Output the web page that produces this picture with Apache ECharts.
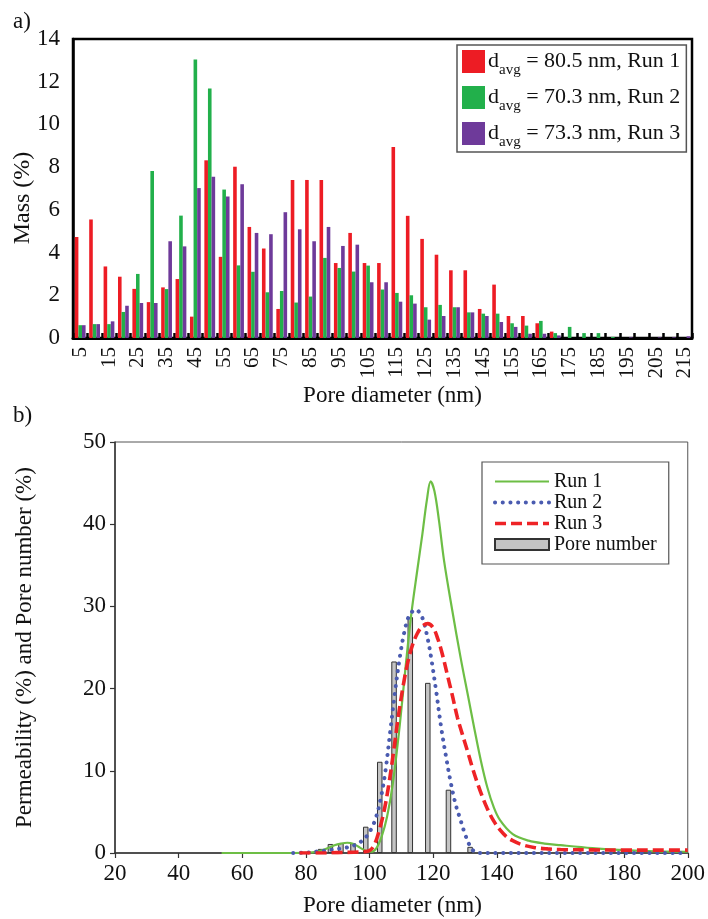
<!DOCTYPE html>
<html>
<head>
<meta charset="utf-8">
<script src="https://cdn.jsdelivr.net/npm/echarts@6/dist/echarts.min.js"></script>
<style>
  html, body { margin: 0; padding: 0; background: #fff; }
  #chart { width: 708px; height: 919px; }
</style>
</head>
<body>
<div id="chart"></div>
<script>
// ---- Panel a: pore size distribution by mass ----
const poreSizes = [5, 10, 15, 20, 25, 30, 35, 40, 45, 50, 55, 60, 65, 70, 75, 80, 85, 90, 95, 100,
  105, 110, 115, 120, 125, 130, 135, 140, 145, 150, 155, 160, 165, 170, 175, 180, 185, 190, 195,
  200, 205, 210, 215];
const massRun1 = [4.73, 5.55, 3.35, 2.87, 2.3, 1.68, 2.37, 2.76, 1.0, 8.32, 3.8, 8.02, 5.2, 4.19,
  1.36, 7.4, 7.4, 7.4, 3.51, 4.92, 3.51, 3.51, 8.94, 5.72, 4.64, 3.9, 3.17, 3.17, 1.36, 2.5,
  1.03, 1.03, 0.69, 0.3, 0, 0, 0, 0, 0, 0, 0, 0, 0];
const massRun2 = [0.6, 0.65, 0.65, 1.22, 3.0, 7.82, 2.29, 5.73, 13.04, 11.68, 6.95, 3.4, 3.1, 2.14,
  2.2, 1.66, 1.94, 3.75, 3.28, 3.11, 3.39, 2.27, 2.11, 2.0, 1.44, 1.55, 1.44, 1.2, 1.14, 1.14,
  0.69, 0.58, 0.8, 0.23, 0.52, 0.23, 0.23, 0.05, 0, 0, 0, 0, 0];
const massRun3 = [0.6, 0.65, 0.78, 1.51, 1.64, 1.64, 4.53, 4.29, 7.02, 7.55, 6.62, 7.2, 4.92, 4.86,
  5.89, 5.09, 4.53, 5.2, 4.31, 4.37, 2.61, 2.61, 1.7, 1.61, 0.86, 1.03, 1.44, 1.2, 1.03, 0.75,
  0.52, 0.2, 0.2, 0.12, 0, 0, 0, 0, 0.03, 0, 0.03, 0.03, 0.08];
const avgDiameters = [80.5, 70.3, 73.3];
const massColors = ['#ED1C24', '#22B04B', '#6E3A9A'];

// ---- Panel b: permeability and pore number ----
const poreNumberX = [84.6, 87.7, 91.0, 94.8, 98.8, 103.2, 107.7, 112.8, 118.3, 124.8, 131.6];
const poreNumber  = [0.5, 1.1, 1.2, 1.2, 3.2, 11.1, 23.3, 28.7, 20.7, 7.7, 0.75];

const run1X = [53.5, 70, 80, 84, 87, 89, 91, 93, 95, 97, 99, 100.5, 102, 103.8, 105.5, 107.3,
  109.5, 111.5, 113.2, 115, 116.6, 118, 119.2, 120.4, 121.8, 123.4, 126, 128.6, 131, 133, 135,
  137, 139, 141, 145, 150, 155, 160, 170, 180, 190, 200];
const run1Perm = [0, 0, 0.03, 0.2, 0.6, 0.95, 1.15, 1.25, 1.1, 0.65, 0.25, 0.15, 0.5, 2.0, 4.4, 8.4,
  15.6, 23.3, 29.3, 34.4, 38.8, 42.9, 45.2, 44.0, 40.5, 35.6, 29.5, 23.8, 19.0, 15.0, 11.2,
  8.0, 5.6, 4.0, 2.3, 1.5, 1.15, 0.95, 0.6, 0.35, 0.2, 0.15];

const run2X = [76, 80, 84, 88, 92, 95, 97, 99, 100.5, 102, 103.5, 105, 106.5, 108, 109.5, 111,
  112.5, 114.5, 116.5, 118.2, 119.5, 121, 122.5, 124, 125.5, 127, 128.6, 130, 131.5, 133, 135,
  140, 160, 180, 200];
const run2Perm = [0, 0.05, 0.2, 0.4, 0.6, 0.9, 1.3, 2.0, 2.9, 4.3, 6.6, 10.0, 14.8, 19.6, 23.8, 27.0,
  28.9, 29.6, 28.7, 26.2, 23.4, 19.5, 15.3, 11.8, 8.6, 6.0, 4.0, 2.3, 0.9, 0.15, 0,
  0, 0, 0, 0];

const run3X = [78, 85, 90, 95, 98, 100, 101.5, 103, 104.5, 106, 107.5, 109, 110.5, 112, 113.5,
  115, 116.6, 118.3, 120, 121.5, 123, 124.5, 126, 127.6, 129.2, 130.7, 132.3, 133.9, 135.5, 137,
  139, 141, 143, 145, 148, 152, 156, 160, 170, 180, 190, 200];
const run3Perm = [0, 0, 0.05, 0.1, 0.15, 0.3, 1.0, 2.7, 5.0, 8.2, 12.2, 16.5, 20.2, 23.2, 25.3,
  26.7, 27.6, 27.9, 27.4, 26.0, 24.0, 21.6, 19.2, 16.5, 14.4, 12.5, 10.4, 8.5, 6.8, 5.4,
  3.9, 2.8, 2.0, 1.5, 1.0, 0.65, 0.5, 0.42, 0.38, 0.35, 0.35, 0.35];

const serif = 'Liberation Serif';
const zip = (xs, ys) => xs.map((x, i) => [x, ys[i]]);
const massNames = avgDiameters.map((d, i) => 'davg = ' + d + ' nm, Run ' + (i + 1));

const lineRun1 = { color: '#6DBE45', width: 2.2 };
const lineRun2 = { color: '#4A5BB0', width: 4, type: [0.1, 7.6], cap: 'round' };
const lineRun3 = { color: '#EE2326', width: 3.6, type: [11, 5] };
const hiddenSymbol = { color: 'rgba(0,0,0,0)', borderWidth: 0, opacity: 0 };

const chart = echarts.init(document.getElementById('chart'), null, { renderer: 'canvas' });

const option = {
  animation: false,
  backgroundColor: '#fff',
  textStyle: { fontFamily: serif, color: '#111' },
  grid: [
    { left: 73, right: 16, top: 39, bottom: 581, show: true, borderColor: '#000', borderWidth: 2.5 },
    { left: 115, right: 20, top: 442, bottom: 66, show: true, borderColor: '#555', borderWidth: 1 }
  ],
  xAxis: [
    {
      type: 'category', gridIndex: 0, data: poreSizes, boundaryGap: true,
      name: 'Pore diameter (nm)', nameLocation: 'middle', nameGap: 46,
      nameTextStyle: { fontFamily: serif, fontSize: 23, color: '#111', padding: [0, 0, 0, 20] },
      axisLine: { lineStyle: { color: '#000', width: 3 } },
      axisTick: { show: true, inside: true, interval: 0, length: 5, lineStyle: { color: '#000', width: 2.5 } },
      axisLabel: { interval: 1, rotate: 90, margin: 9, fontFamily: serif, fontSize: 21, color: '#111' },
      splitLine: { show: false }
    },
    {
      type: 'value', gridIndex: 1, min: 20, max: 200, interval: 20,
      name: 'Pore diameter (nm)', nameLocation: 'middle', nameGap: 41,
      nameTextStyle: { fontFamily: serif, fontSize: 23, color: '#111', padding: [0, 18, 0, 0] },
      axisLine: { lineStyle: { color: '#333', width: 1.5 } },
      axisTick: { show: true, length: 5, lineStyle: { color: '#333', width: 1.2 } },
      axisLabel: { margin: 9, fontFamily: serif, fontSize: 23, color: '#111' },
      splitLine: { show: false }
    }
  ],
  yAxis: [
    {
      type: 'value', gridIndex: 0, min: 0, max: 14, interval: 2,
      axisLine: { show: true, lineStyle: { color: '#000', width: 2.5 } },
      axisTick: { show: false },
      axisLabel: { margin: 13, fontFamily: serif, fontSize: 23, color: '#111' },
      splitLine: { show: false }
    },
    {
      type: 'value', gridIndex: 1, min: 0, max: 50, interval: 10,
      name: 'Permeability (%) and Pore number (%)', nameLocation: 'middle', nameGap: 79,
      nameTextStyle: { fontFamily: serif, fontSize: 23, color: '#111' },
      axisLine: { show: true, lineStyle: { color: '#333', width: 1.5 } },
      axisTick: { show: true, length: 5, lineStyle: { color: '#333', width: 1.2 } },
      axisLabel: { margin: 9, fontFamily: serif, fontSize: 23, color: '#111' },
      splitLine: { show: false }
    }
  ],
  legend: [
    {
      data: massNames,
      orient: 'vertical', left: 457, top: 45,
      padding: [5, 6, 2, 5], itemGap: 8,
      itemWidth: 23, itemHeight: 23, icon: 'rect',
      backgroundColor: '#fff', borderColor: '#555', borderWidth: 1.5,
      formatter: name => '{d|d}{sub|avg}{d|' + name.slice(4) + '}',
      textStyle: {
        fontFamily: serif, fontSize: 22, color: '#111', padding: [0, 0, 0, -2],
        rich: {
          d: { fontFamily: serif, fontSize: 22, color: '#111' },
          sub: { fontFamily: serif, fontSize: 15, color: '#111', padding: [18, 0, 0, 0] }
        }
      }
    },
    {
      data: [
        { name: 'Run 1', itemStyle: hiddenSymbol, lineStyle: lineRun1 },
        { name: 'Run 2', itemStyle: hiddenSymbol, lineStyle: lineRun2 },
        { name: 'Run 3', itemStyle: hiddenSymbol, lineStyle: lineRun3 },
        { name: 'Pore number', icon: 'rect' }
      ],
      orient: 'vertical', left: 482, top: 462,
      padding: [9, 12, 9, 11], itemGap: 0,
      itemWidth: 54, itemHeight: 11,
      backgroundColor: '#fff', borderColor: '#555', borderWidth: 1.2,
      textStyle: { fontFamily: serif, fontSize: 20, color: '#111', lineHeight: 21 }
    }
  ],
  graphic: [
    { type: 'text', left: 13, top: 10, style: { text: 'a)', font: '23px "Liberation Serif"', fill: '#111' } },
    { type: 'text', left: 13, top: 404, style: { text: 'b)', font: '23px "Liberation Serif"', fill: '#111' } },
    {
      type: 'text', x: 23, y: 198, rotation: Math.PI / 2,
      style: { text: 'Mass (%)', font: '24px "Liberation Serif"', fill: '#111', align: 'center', verticalAlign: 'middle' }
    }
  ],
  series: [
    ...[massRun1, massRun2, massRun3].map((vals, i) => ({
      type: 'bar', name: massNames[i], xAxisIndex: 0, yAxisIndex: 0,
      data: vals, barGap: '0%', barCategoryGap: '25%',
      itemStyle: { color: massColors[i] }
    })),
    {
      type: 'bar', name: 'Pore number', xAxisIndex: 1, yAxisIndex: 1,
      data: zip(poreNumberX, poreNumber), barWidth: 5.5,
      itemStyle: { color: '#c4c4c4', borderColor: '#333', borderWidth: 1 },
      z: 2
    },
    {
      type: 'line', name: 'Run 1', xAxisIndex: 1, yAxisIndex: 1,
      data: zip(run1X, run1Perm), smooth: 0.35, symbol: 'none',
      itemStyle: { color: lineRun1.color }, lineStyle: lineRun1, z: 3
    },
    {
      type: 'line', name: 'Run 2', xAxisIndex: 1, yAxisIndex: 1,
      data: zip(run2X, run2Perm), smooth: 0.35, symbol: 'none',
      itemStyle: { color: lineRun2.color }, lineStyle: lineRun2, z: 4
    },
    {
      type: 'line', name: 'Run 3', xAxisIndex: 1, yAxisIndex: 1,
      data: zip(run3X, run3Perm), smooth: 0.35, symbol: 'none',
      itemStyle: { color: lineRun3.color }, lineStyle: lineRun3, z: 5
    }
  ]
};

chart.setOption(option);
</script>
</body>
</html>
